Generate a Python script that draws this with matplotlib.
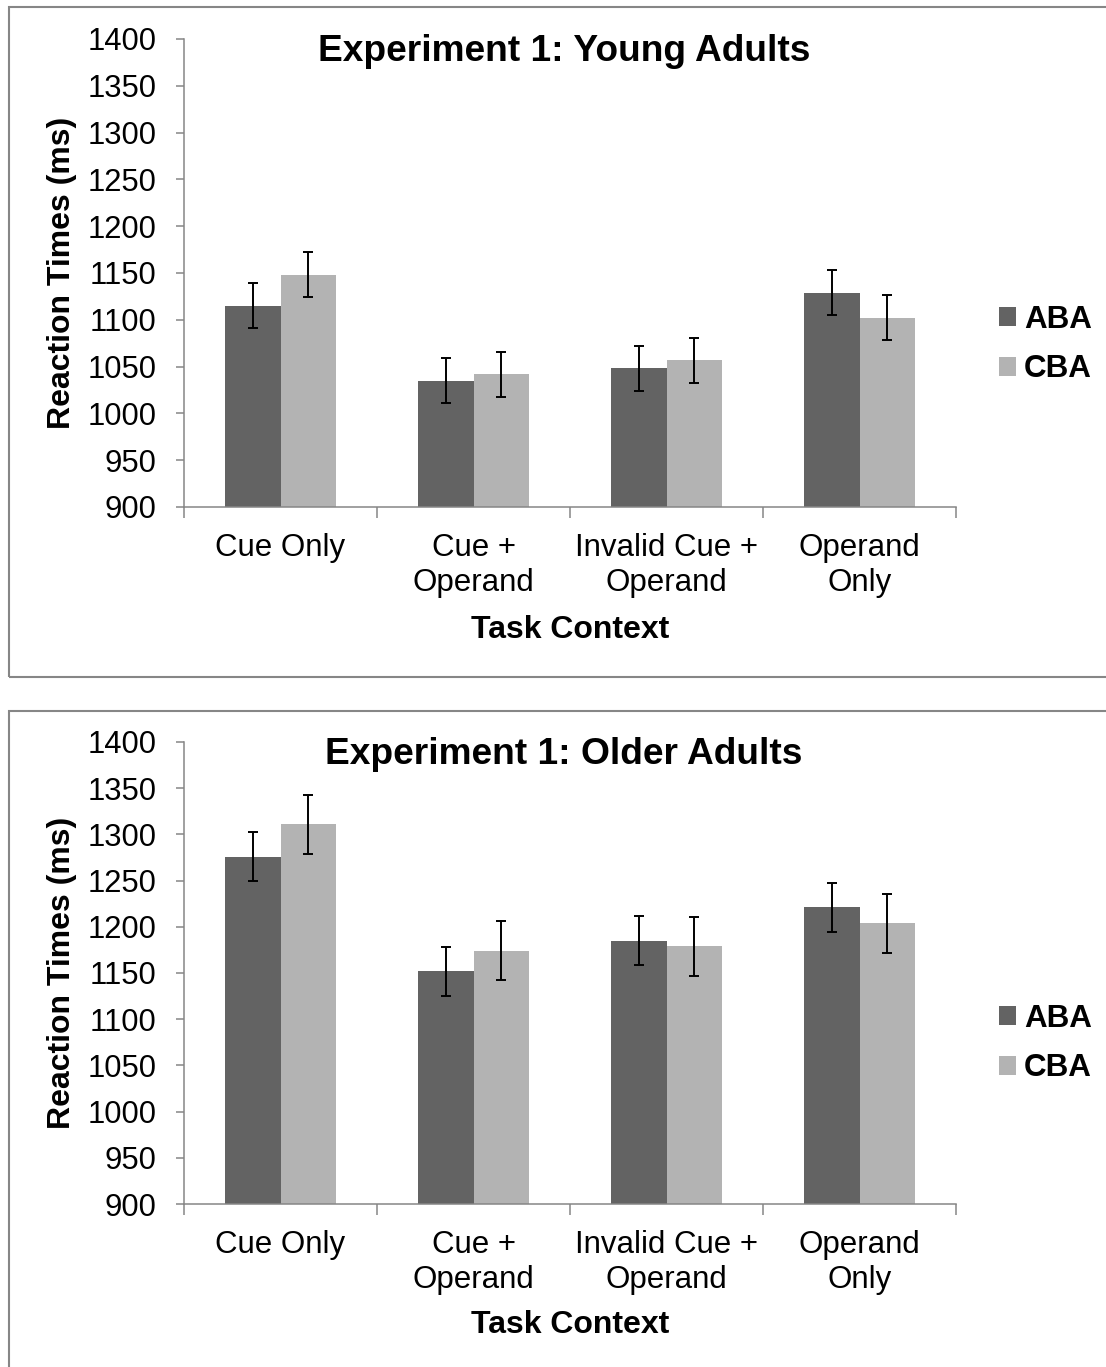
import numpy as np
import matplotlib
matplotlib.use('Agg')
import matplotlib.pyplot as plt
from matplotlib.patches import Rectangle

plt.rcParams['font.family'] = ['Liberation Sans', 'DejaVu Sans']

categories = ['Cue Only', 'Cue +\nOperand', 'Invalid Cue +\nOperand', 'Operand\nOnly']
series = ['ABA', 'CBA']

young_aba = [1115, 1035, 1048, 1129]
young_cba = [1148, 1042, 1057, 1102]
young_aba_err = [24, 24, 24, 24]
young_cba_err = [24, 24, 24, 24]

old_aba = [1276, 1152, 1185, 1221]
old_cba = [1311, 1174, 1179, 1204]
old_aba_err = [26.5, 26.5, 26.5, 26.5]
old_cba_err = [32, 32, 32, 32]

yticks = np.arange(900, 1401, 50)

W, H = 1106, 1367
fig = plt.figure(figsize=(W / 100, H / 100), dpi=100)

dark = '#636363'
light = '#b3b3b3'
grey = '#868686'


def px_axes(left, top, right, bottom):
    return fig.add_axes([left / W, 1 - bottom / H, (right - left) / W, (bottom - top) / H])


def draw_panel(ax, title, aba, cba, aba_err, cba_err):
    x = np.arange(len(categories))
    w = 1 / 3.5
    ax.bar(x - w / 2, aba, w, color=dark, label=series[0], zorder=2)
    ax.bar(x + w / 2, cba, w, color=light, label=series[1], zorder=2)
    ax.errorbar(x - w / 2, aba, yerr=aba_err, fmt='none', ecolor='black',
                elinewidth=1.4, capsize=3.5, capthick=1.4, zorder=3)
    ax.errorbar(x + w / 2, cba, yerr=cba_err, fmt='none', ecolor='black',
                elinewidth=1.4, capsize=3.5, capthick=1.4, zorder=3)

    ax.set_ylim(900, 1400)
    ax.set_xlim(-0.5, len(categories) - 0.5)
    ax.set_yticks(yticks)
    ax.set_xticks(x)
    ax.set_xticklabels(categories, fontsize=22.5, linespacing=1.22)
    ax.set_xticks(np.arange(-0.5, len(categories)), minor=True)
    ax.tick_params(axis='x', which='major', length=0, pad=19)
    ax.tick_params(axis='x', which='minor', length=8, width=1.1, color=grey, direction='out')
    ax.tick_params(axis='y', labelsize=22.3, length=6, width=1.1, color=grey, pad=14)

    for s in ['top', 'right']:
        ax.spines[s].set_visible(False)
    for s in ['left', 'bottom']:
        ax.spines[s].set_color(grey)
        ax.spines[s].set_linewidth(1.1)

    ax.text(0.492, 0.974, title, transform=ax.transAxes, ha='center', va='center',
            fontsize=26.7, fontweight='bold')
    ax.text(0.5, -0.262, 'Task Context', transform=ax.transAxes, ha='center', va='center',
            fontsize=23, fontweight='bold')
    ax.text(-0.158, 0.5, 'Reaction Times (ms)', transform=ax.transAxes, ha='center',
            va='center', rotation=90, fontsize=23, fontweight='bold')

    leg = ax.legend(loc='center left', bbox_to_anchor=(1.056, 0.347), frameon=False,
                    fontsize=22.6, handlelength=0.54, handleheight=0.54,
                    handletextpad=0.25, labelspacing=0.62, borderpad=0, borderaxespad=0)
    for t in leg.get_texts():
        t.set_fontweight('bold')


ax1 = px_axes(184, 39, 956, 507)
draw_panel(ax1, 'Experiment 1: Young Adults', young_aba, young_cba, young_aba_err, young_cba_err)

ax2 = px_axes(184, 742, 956, 1204)
draw_panel(ax2, 'Experiment 1: Older Adults', old_aba, old_cba, old_aba_err, old_cba_err)

# panel frames
fig.patches.append(Rectangle((9 / W, 1 - 677 / H), 1.2, (677 - 7) / H, transform=fig.transFigure,
                             fill=False, edgecolor=grey, linewidth=1.5, zorder=0))
fig.patches.append(Rectangle((9 / W, 1 - 1400 / H), 1.2, (1400 - 711) / H, transform=fig.transFigure,
                             fill=False, edgecolor=grey, linewidth=1.5, zorder=0))

fig.savefig('out.png', dpi=100)
